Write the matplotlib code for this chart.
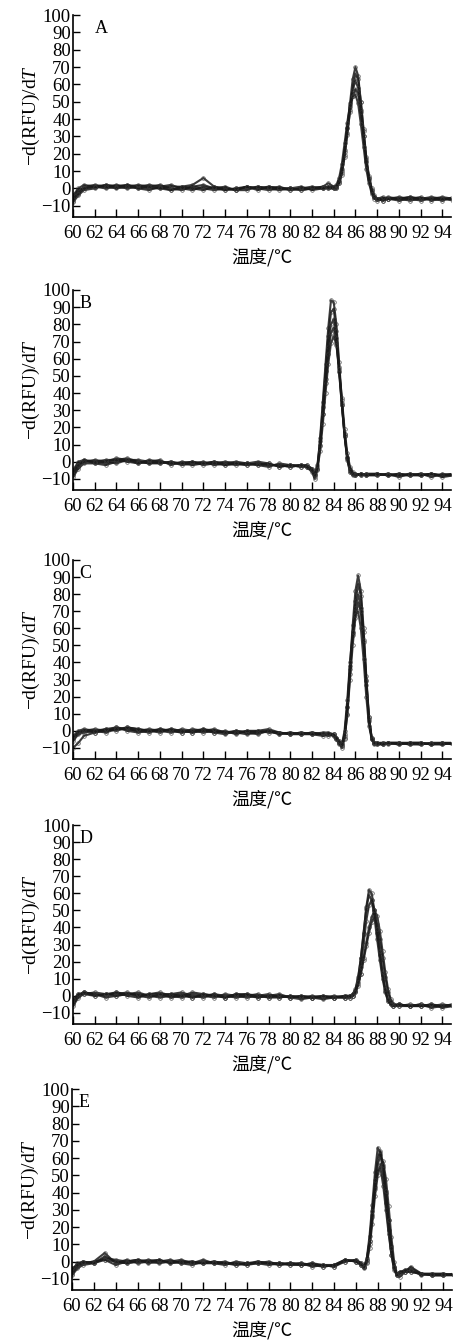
import matplotlib
matplotlib.use("Agg")
import matplotlib.pyplot as plt

plt.rcParams['font.family'] = ['Liberation Serif', 'DejaVu Serif']
plt.rcParams['mathtext.fontset'] = 'custom'
plt.rcParams['mathtext.rm'] = 'Liberation Serif'
plt.rcParams['mathtext.it'] = 'Liberation Serif:italic'

# ---------------- data ----------------
T_A = [60, 60.5, 61, 62, 63, 64, 65, 66, 67, 68, 69, 70, 71, 72, 73, 74, 75, 76, 77, 78, 79, 80, 81, 82, 83,
       83.5, 84, 84.25, 84.5, 84.75, 85, 85.25, 85.5, 85.75, 86, 86.25, 86.5, 86.75, 87, 87.25, 87.5, 87.75, 88,
       88.5, 89, 90, 91, 92, 93, 94, 95]
A1 = [-7, -2, 1, 2, 1, 2, 1, 0, 1, 2, 0, -1, 1, 0, -1, 0, -1, 1, 0, -1, 0, -1, 0, 0, 1,
      0, 0, 1, 4, 10, 21, 35, 49, 63, 70, 65, 50, 33, 17, 6, -1, -5, -6, -6, -5, -6, -5, -6, -6, -5, -6]
A2 = [-5, -1, 0, 1, 2, 1, 0, 1, 2, 1, -1, 0, 1, 2, 0, -1, 0, 0, 1, 0, -1, 0, -1, 0, 0,
      1, 0, 0, 3, 8, 18, 31, 45, 58, 66, 63, 50, 34, 18, 7, 0, -4, -6, -7, -6, -6, -7, -6, -5, -6, -6]
A3 = [-8, -4, -1, 0, 2, 1, 2, 1, 0, 0, 1, 1, 2, 6, 1, 0, -1, 1, 0, 1, 0, 0, -1, 0, 1,
      3, 1, 1, 4, 11, 22, 35, 47, 57, 62, 58, 45, 30, 15, 5, -2, -5, -7, -6, -6, -5, -6, -7, -6, -6, -7]
A4 = [-4, 0, 2, 1, 0, 1, 2, 0, -1, 1, 2, 0, -1, 1, 0, 1, -1, -1, 1, 0, 1, -1, 0, 1, 0,
      0, 0, 0, 3, 9, 19, 32, 44, 53, 57, 55, 44, 30, 16, 6, -1, -5, -6, -5, -6, -6, -5, -6, -6, -7, -5]
A5 = [-6, -3, 0, 1, 1, 0, 1, 2, 1, 0, -1, 1, 0, -1, 1, -1, 0, 1, -1, 1, 0, 0, 1, -1, 0,
      1, 1, 2, 6, 14, 26, 38, 48, 53, 54, 49, 37, 24, 11, 3, -3, -6, -6, -7, -6, -7, -6, -5, -7, -6, -6]

T_B = [60, 60.5, 61, 62, 63, 64, 65, 66, 67, 68, 69, 70, 71, 72, 73, 74, 75, 76, 77, 78, 79, 80, 81,
       81.5, 82, 82.25, 82.5, 82.75, 83, 83.25, 83.5, 83.75, 84, 84.25, 84.5, 84.75, 85, 85.25, 85.5, 85.75, 86,
       86.5, 87, 88, 89, 90, 91, 92, 93, 94, 95]
B1 = [-8, -3, 1, 0, -1, 1, 2, 0, -1, 0, -1, -1, 0, -2, -1, 0, -1, -2, -1, -2, -2, -3, -2,
      -3, -5, -9, -4, 14, 35, 57, 78, 94, 93, 80, 58, 36, 16, 2, -6, -7, -8, -7, -8, -7, -8, -7, -8, -7, -8, -8, -7]
B2 = [-6, -1, 0, 1, 0, -1, 1, 1, 0, -1, 0, -2, -1, -1, 0, -1, -2, -1, 0, -1, -3, -2, -3,
      -2, -4, -8, -2, 12, 32, 53, 73, 87, 89, 76, 55, 34, 15, 1, -6, -8, -7, -8, -7, -8, -7, -9, -7, -8, -7, -8, -8]
B3 = [-9, -4, -1, -1, 0, 2, 1, -1, 0, 1, -2, 0, -1, 0, -2, -1, 0, -1, -2, -3, -1, -2, -3,
      -3, -6, -10, -5, 9, 28, 48, 67, 80, 83, 72, 53, 33, 15, 2, -5, -7, -8, -7, -8, -8, -7, -8, -8, -7, -9, -7, -8]
B4 = [-5, 0, 1, -1, -2, 0, 1, 0, -1, -1, 0, -1, -2, -1, 0, -2, -1, -2, -1, -2, -2, -3, -2,
      -2, -4, -7, -3, 10, 28, 46, 63, 75, 78, 69, 52, 33, 16, 3, -4, -6, -7, -8, -7, -7, -8, -7, -8, -8, -7, -8, -7]
B5 = [-7, -2, 0, 0, 1, 1, 0, -1, 1, 0, -1, -1, 0, -1, -1, -2, -1, -1, -2, -1, -3, -2, -2,
      -3, -5, -8, -4, 6, 22, 40, 57, 69, 73, 68, 54, 37, 19, 5, -3, -7, -8, -7, -8, -7, -8, -8, -7, -8, -7, -9, -8]

T_C = [60, 60.5, 61, 62, 63, 64, 65, 66, 67, 68, 69, 70, 71, 72, 73, 74, 75, 76, 77, 78, 79, 80, 81, 82, 83,
       83.5, 84, 84.25, 84.5, 84.75, 85, 85.25, 85.5, 85.75, 86, 86.25, 86.5, 86.75, 87, 87.25, 87.5, 87.75, 88,
       88.5, 89, 90, 91, 92, 93, 94, 95]
C1 = [-4, -1, 0, 1, 0, 2, 1, 0, -1, 1, 0, -1, 1, 0, -1, -2, 0, -1, 0, 1, -1, -2, -1, -2, -2,
      -2, -3, -5, -8, -9, -3, 14, 38, 62, 82, 91, 82, 60, 32, 8, -5, -7, -7, -8, -7, -7, -8, -7, -8, -7, -8]
C2 = [-6, -2, -1, 0, 1, 0, 2, 1, 0, -1, 1, 0, -1, 1, 0, -1, -1, 0, -1, 0, -2, -1, -2, -1, -2,
      -3, -2, -4, -7, -10, -5, 10, 33, 57, 76, 86, 79, 58, 30, 7, -5, -8, -7, -7, -8, -7, -7, -8, -7, -8, -7]
C3 = [-10, -7, -3, -1, 0, 1, 1, 0, 1, 0, -1, 1, 0, -1, 0, -1, 0, -1, -2, 0, -1, -2, -2, -1, -2,
      -2, -2, -4, -6, -8, -2, 14, 36, 56, 72, 80, 72, 52, 27, 6, -4, -7, -8, -7, -7, -8, -7, -7, -8, -7, -7]
C4 = [-5, -1, 0, -1, 1, 2, 0, -1, 0, 1, 0, -1, 0, 1, -1, 0, -2, 0, 0, -1, -1, -2, -1, -2, -3,
      -2, -3, -5, -7, -9, -4, 9, 30, 50, 66, 75, 70, 53, 29, 8, -4, -7, -8, -8, -7, -7, -8, -8, -7, -7, -8]
C5 = [-3, 0, 1, 0, -1, 1, 2, 1, 0, 0, 1, 0, -1, 0, 1, -1, -1, -2, -1, 0, -2, -1, -2, -2, -1,
      -1, -2, -4, -6, -8, 0, 18, 40, 58, 68, 70, 60, 42, 20, 3, -5, -7, -7, -8, -7, -8, -7, -7, -8, -8, -7]

T_D = [60, 60.5, 61, 62, 63, 64, 65, 66, 67, 68, 69, 70, 71, 72, 73, 74, 75, 76, 77, 78, 79, 80, 81, 82, 83, 84, 85,
       85.5, 85.75, 86, 86.25, 86.5, 86.75, 87, 87.25, 87.5, 87.75, 88, 88.25, 88.5, 88.75, 89, 89.25, 89.5,
       90, 91, 92, 93, 94, 95]
D1 = [-5, 0, 2, 1, 0, 2, 1, 0, 1, 2, 0, -1, 1, 0, -1, 1, 0, -1, 0, 1, -1, 0, -1, 0, -1, -1, 0,
      0, 1, 4, 11, 22, 36, 52, 62, 60, 50, 37, 24, 12, 3, -3, -5, -6, -5, -6, -5, -6, -6, -5]
D2 = [-3, 1, 1, 2, 1, 0, 1, 2, 0, 0, 1, 0, -1, 1, 0, -1, 1, 0, -1, 0, 0, -1, 0, -1, 0, -1, -1,
      -1, 0, 3, 10, 22, 37, 51, 59, 56, 46, 33, 21, 10, 2, -3, -5, -6, -6, -5, -6, -6, -5, -6]
D3 = [-6, -1, 1, 0, 1, 1, 2, 0, -1, 1, 1, 2, 0, -1, 1, 0, -1, 0, 1, -1, 0, -1, -2, -1, -1, 0, -1,
      -1, 0, 2, 6, 13, 22, 31, 40, 46, 50, 47, 38, 26, 14, 4, -2, -5, -6, -6, -5, -7, -6, -6]
D4 = [-4, 0, 2, 1, -1, 0, 1, 1, 0, -1, 0, 1, -1, 0, 1, -1, 0, 1, 0, -1, -1, 0, -1, -1, -2, -1, 0,
      0, 1, 3, 7, 13, 21, 29, 37, 43, 46, 42, 33, 22, 11, 2, -3, -5, -5, -6, -6, -5, -6, -5]
D5 = [-2, 1, 2, 0, 1, 2, 0, -1, 1, 1, -1, 0, 2, 1, 0, -1, 1, 1, -1, 0, 1, -1, 0, -1, 0, -1, -1,
      0, 0, 2, 8, 17, 30, 44, 53, 56, 50, 39, 26, 14, 4, -2, -5, -6, -5, -6, -6, -5, -7, -6]

T_E = [60, 60.5, 61, 62, 63, 64, 65, 66, 67, 68, 69, 70, 71, 72, 73, 74, 75, 76, 77, 78, 79, 80, 81, 82, 83, 84, 85, 86,
       86.5, 86.75, 87, 87.25, 87.5, 87.75, 88, 88.25, 88.5, 88.75, 89, 89.25, 89.5, 89.75, 90, 90.5, 91,
       92, 93, 94, 95]
E1 = [-6, -2, -1, 0, 5, -1, 1, -1, 0, 1, -1, 0, -1, 1, -1, -2, 0, -1, -1, 0, -2, -1, -2, -1, -3, -2, 0, 1,
      -1, -3, 2, 15, 33, 52, 66, 63, 50, 34, 18, 4, -5, -8, -6, -5, -4, -7, -8, -7, -8]
E2 = [-8, -4, -2, -1, 1, 0, -1, 0, 1, 0, 0, -1, 0, -1, 0, -1, -1, -2, 0, -1, -1, -2, -1, -2, -2, -3, 1, 0,
      -2, -3, 0, 10, 26, 43, 56, 62, 55, 40, 24, 9, -3, -8, -7, -6, -6, -7, -7, -8, -8]
E3 = [-5, -1, 0, -1, 2, 1, 0, 1, -1, 0, 1, -1, -2, 0, -1, 0, -2, -1, -1, -2, -1, -1, -2, -2, -3, -2, 1, 0,
      -2, -4, -1, 8, 22, 38, 50, 56, 58, 48, 32, 14, 0, -7, -9, -6, -3, -7, -8, -8, -7]
E4 = [-7, -3, -1, 0, 1, -2, 0, 1, 0, -1, 0, 1, -1, -1, 0, -1, -2, -1, 0, -1, -2, -1, -1, -3, -2, -3, 0, 1,
      -1, -3, 1, 12, 27, 42, 53, 54, 44, 30, 16, 4, -4, -7, -6, -6, -6, -7, -8, -8, -7]
E5 = [-4, -2, 0, -1, 3, 0, -1, 0, 0, 1, -1, 0, 0, -1, -1, -1, -1, -2, -1, -1, -1, -2, -2, -1, -2, -2, 1, 0,
      -2, -3, 1, 12, 29, 47, 60, 64, 56, 41, 24, 8, -3, -8, -7, -5, -5, -8, -7, -7, -8]

panel_labels = ['A', 'B', 'C', 'D', 'E']
x_ticks = [60, 62, 64, 66, 68, 70, 72, 74, 76, 78, 80, 82, 84, 86, 88, 90, 92, 94]
y_ticks = [-10, 0, 10, 20, 30, 40, 50, 60, 70, 80, 90, 100]

panels = [
    (T_A, [A1, A2, A3, A4, A5]),
    (T_B, [B1, B2, B3, B4, B5]),
    (T_C, [C1, C2, C3, C4, C5]),
    (T_D, [D1, D2, D3, D4, D5]),
    (T_E, [E1, E2, E3, E4, E5]),
]

# ---------------- layout (pixels) ----------------
W, H = 459, 1341
boxes = [(73, 451, 15, 217), (73, 451, 290, 490), (73, 451, 560, 759),
         (73, 451, 825, 1024), (72, 452, 1089, 1290)]
label_x = [62.0, 60.6, 60.6, 60.6, 60.6]

fig = plt.figure(figsize=(W / 100, H / 100), dpi=100)
for i, ((T, curves), (l, r, t, b)) in enumerate(zip(panels, boxes)):
    ax = fig.add_axes([l / W, 1 - b / H, (r - l) / W, (b - t) / H])
    for y in curves:
        ax.plot(T, y, color='#1a1a1a', lw=1.5, alpha=0.85,
                marker='o', ms=2.6, mfc='none', mec='#3a3a3a', mew=0.5)
    ax.set_xlim(60, 94.8)
    ax.set_ylim(-16.5, 100)
    ax.set_xticks(x_ticks)
    ax.set_yticks(y_ticks)
    ax.spines['top'].set_visible(False)
    ax.spines['right'].set_visible(False)
    for s in ('left', 'bottom'):
        ax.spines[s].set_linewidth(1.2)
    ax.tick_params(axis='x', direction='in', length=6, width=1.0, pad=6, labelsize=13.5)
    ax.tick_params(axis='y', direction='in', length=5, width=1.0, pad=1.5, labelsize=13.5)
    ax.text(label_x[i], 92, panel_labels[i], fontsize=13, ha='left', va='center')
    ax.set_ylabel('−d(RFU)/d$T$', fontsize=14, labelpad=0)
    ax.set_xlabel('温度/℃', fontsize=13, family=['Noto Sans CJK SC', 'DejaVu Sans'], labelpad=4)

fig.savefig('out.png', dpi=100)
